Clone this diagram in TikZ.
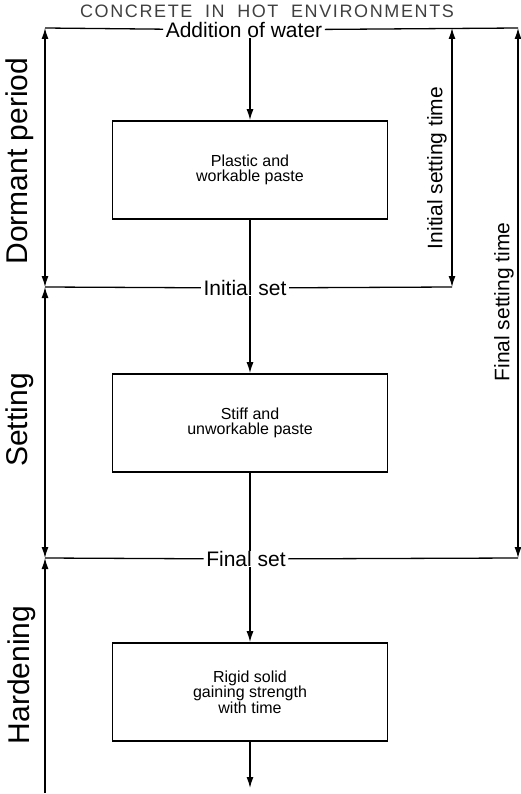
\documentclass[tikz,border=0pt]{standalone}
\usepackage{fontspec}
\setmainfont{Liberation Sans}
\usetikzlibrary{arrows.meta,positioning}

\begin{document}
\begin{tikzpicture}[x=1pt,y=-1pt,line width=1.3pt,
    stage/.style={draw,line width=1.7pt,minimum width=275pt,minimum height=98pt,
      align=center,font=\fontsize{16}{15.5}\selectfont},
    event/.style={fill=white,inner xsep=2pt,inner ysep=0pt,font=\fontsize{21}{22}\selectfont},
    period/.style={rotate=90,font=\fontsize{30}{31}\selectfont},
    span/.style={rotate=90,font=\fontsize{21}{22}\selectfont},
    tip/.style={-{Latex[length=11pt,width=7pt]}},
    both/.style={{Latex[length=11pt,width=7pt]}-{Latex[length=11pt,width=7pt]}}]
  \useasboundingbox (0,0) rectangle (520,794);

  \node[text=black!75,inner sep=0pt,font=\fontsize{18}{19}\selectfont\addfontfeature{LetterSpace=9}] (title) at (267,11) {CONCRETE\hspace{6pt} IN\hspace{6pt} HOT\hspace{6pt} ENVIRONMENTS};

  % time axis corners
  \coordinate (tl) at (45,28);
  \coordinate (tr) at (518,28);
  \coordinate (itop) at (452,28);
  \coordinate (il) at (45,287);
  \coordinate (ir) at (452,287);
  \coordinate (fl) at (45,558);
  \coordinate (fr) at (518,558);
  \coordinate (bl) at (45,793);
  \coordinate (out) at (250,788);

  \node[event] (addw) at (244,30) {Addition of water};
  \node[event] (iset) at (245,288) {Initial set};
  \node[event] (fset) at (246,559) {Final set};

  \node[stage] (plastic) at (250,170) {Plastic and\\workable paste};
  \node[stage] (stiff) at (250,423) {Stiff and\\unworkable paste};
  \node[stage] (rigid) at (250,692) {Rigid solid\\gaining strength\\with time};

  \node[period] (dorm) at (20,161) {Dormant period};
  \node[period] (sett) at (20,420) {Setting};
  \node[period] (hard) at (22,675) {Hardening};
  \node[span] (itime) at (437,168) {Initial setting time};
  \node[span] (ftime) at (504,302) {Final setting time};

  \draw (tl) -- (addw) (addw) -- (tr);
  \draw (il) -- (iset) (iset) -- (ir);
  \draw (fl) -- (fset) (fset) -- (fr);

  \draw[both] (il) -- (tl);
  \draw[both] (il) -- (fl);
  \draw[tip] (bl) -- (fl);
  \draw[both] (ir) -- (itop);
  \draw[both] (fr) -- (tr);

  \draw[tip] (addw.south -| plastic.north) -- (plastic);
  \draw (plastic) -- (iset.north -| plastic.south);
  \draw[tip] (iset.south -| stiff.north) -- (stiff);
  \draw (stiff) -- (fset.north -| stiff.south);
  \draw[tip] (fset.south -| rigid.north) -- (rigid);
  \draw[tip] (rigid) -- (out);
\end{tikzpicture}
\end{document}
